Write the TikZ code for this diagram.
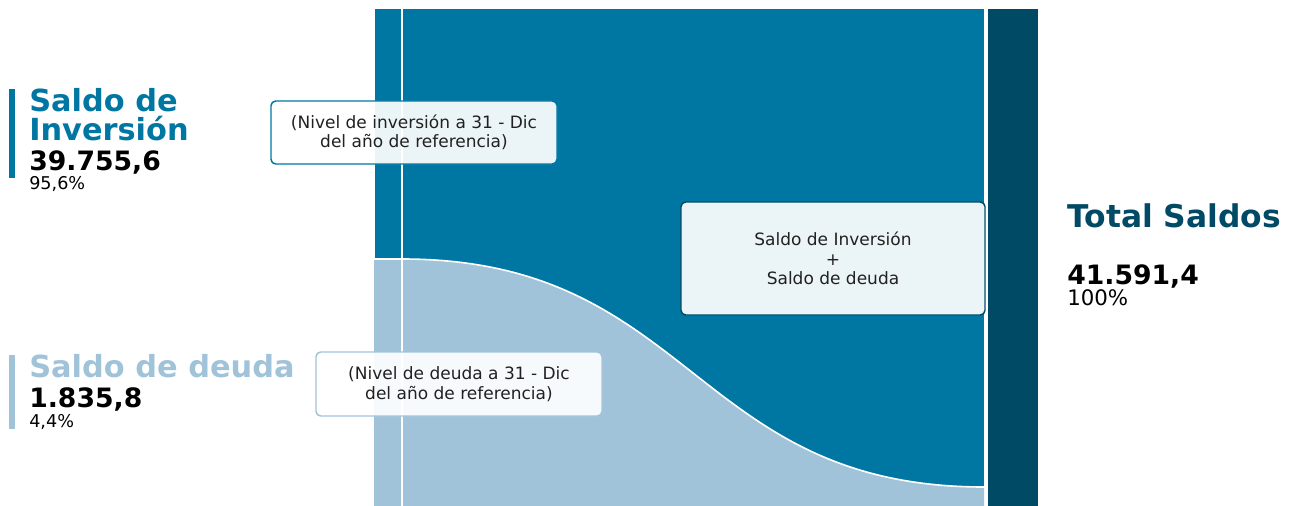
\documentclass[tikz,border=0pt]{standalone}
\usepackage{fontspec}
\setmainfont{DejaVu Sans}
\usepackage{tikz}
\usetikzlibrary{calc}
\definecolor{qqttcc}{rgb}{0.,0.4667,0.6392}
\definecolor{kkwwyy}{rgb}{0.6314,0.7647,0.8549}
\definecolor{qqggtt}{rgb}{0.,0.2902,0.4}
\definecolor{ttttdd}{rgb}{0.13,0.13,0.13}
\tikzset{labelbox/.style={draw,line width=1.1pt,rounded corners=3.5pt,fill=white,fill opacity=0.92,text opacity=1,text=ttttdd,align=center,font=\fontsize{12.75}{14.6}\selectfont,inner sep=0pt},
title/.style={anchor=base west,inner sep=0pt,align=left,font=\fontsize{22.8}{21.75}\selectfont\bfseries},
amount/.style={anchor=base west,inner sep=0pt,font=\fontsize{20}{20}\selectfont\bfseries},
share/.style={anchor=base west,inner sep=0pt,font=\fontsize{13.2}{13.2}\selectfont}}

\begin{document}
\begin{tikzpicture}[line cap=round,line join=round,x=0.75pt,y=-0.75pt]
\useasboundingbox (0,0) rectangle (1305,506);
\fill [qqttcc,draw=white,line width=0.6pt] (374,8) rectangle (984,506);
\fill [qqggtt,draw=white,line width=0.6pt] (987,8) rectangle (1038,506);
\fill [kkwwyy] (374,506) -- (374,259) -- (402,259) .. controls (693,259) and (693,487) .. (984,487) -- (984,506) -- cycle;
\draw [white,line width=1.2pt] (374,259) -- (402,259) .. controls (693,259) and (693,487) .. (984,487);
\draw [white,line width=1.4pt,line cap=butt] (402,8) -- (402,506);
\fill [qqttcc] (9,89) rectangle (15,178);
\fill [kkwwyy] (9,355) rectangle (15,429);
\node[title,text=qqttcc] (inv) at (29,141) {Saldo de\\Inversión};
\node[amount] (invval) at (29,171) {39.755,6};
\node[share] (invpct) at (29,190) {95,6\%};
\node[title,text=kkwwyy] (deu) at (29,377) {Saldo de deuda};
\node[amount] (deuval) at (29,407) {1.835,8};
\node[share] (deupct) at (29,427) {4,4\%};
\node[title,text=qqggtt,font=\fontsize{23.5}{23.5}\selectfont\bfseries] (tot) at (1067,227) {Total Saldos};
\node[amount] (totval) at (1067,284) {41.591,4};
\node[share,font=\fontsize{16}{16}\selectfont] (totpct) at (1067,305) {100\%};
\node[labelbox,draw=qqttcc,minimum width=214.5pt,minimum height=47.25pt] (invbox) at (414,132.5) {(Nivel de inversión a 31 - Dic\\del año de referencia)};
\node[labelbox,draw=kkwwyy,minimum width=214.5pt,minimum height=48pt] (deubox) at (459,384) {(Nivel de deuda a 31 - Dic\\del año de referencia)};
\node[labelbox,draw=qqggtt,minimum width=228pt,minimum height=84.75pt] (totbox) at (833,258.5) {Saldo de Inversión\\+\\Saldo de deuda};
\end{tikzpicture}
\end{document}
